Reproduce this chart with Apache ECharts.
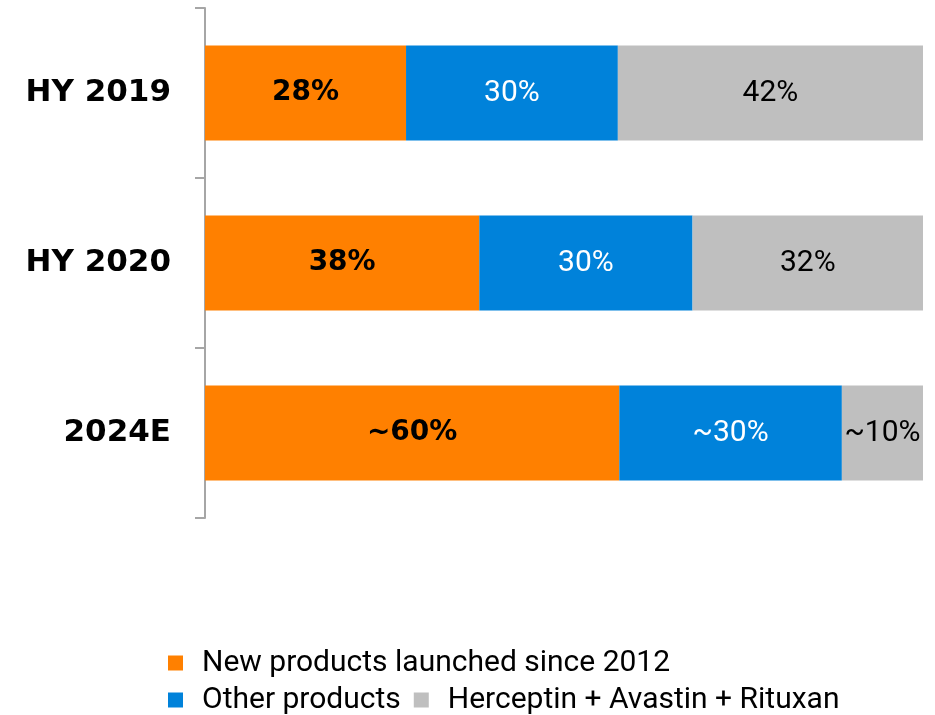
<!DOCTYPE html>
<html>
<head>
<meta charset="utf-8">
<script src="https://cdn.jsdelivr.net/npm/echarts@6/dist/echarts.min.js"></script>
<style>
  html, body { margin: 0; padding: 0; background: #fff; }
  #chart { width: 935px; height: 715px; }
</style>
</head>
<body>
<div id="chart"></div>
<script>
// categories, top to bottom
const periods = ['HY 2019', 'HY 2020', '2024E']
// bar lengths (share of sales, %)
const newProducts = [28, 38.2, 57.7]
const otherProducts = [29.5, 29.7, 31]
const hercAvaRit = [42.5, 32.1, 11.3]
// printed labels
const newLabels = ['28%', '38%', '~60%']
const otherLabels = ['30%', '30%', '~30%']
const hercLabels = ['42%', '32%', '~10%']
const seriesNames = ['New products launched since 2012', 'Other products', 'Herceptin + Avastin + Rituxan']

const chart = echarts.init(document.getElementById('chart'))

function makeSeries(name, values, labels, color, labelColor, bold) {
  return {
    name: name,
    type: 'bar',
    stack: 'total',
    barWidth: 95,
    itemStyle: { color: color },
    label: {
      show: true,
      position: 'inside',
      color: labelColor,
      fontFamily: bold ? 'DejaVu Sans' : 'Roboto',
      fontWeight: bold ? 'bold' : 'normal',
      fontSize: bold ? 28 : 30,
      formatter: p => labels[p.dataIndex]
    },
    data: values
  }
}

const legendText = { fontFamily: 'Roboto', fontSize: 30, color: '#000', padding: [0, 0, 0, 14] }

chart.setOption({
  backgroundColor: '#ffffff',
  animation: false,
  grid: {
    left: 205,
    right: 12,
    top: 8,
    bottom: 197
  },
  legend: [{
    data: [seriesNames[0]],
    left: 163,
    top: 643,
    icon: 'rect',
    itemWidth: 15,
    itemHeight: 15,
    textStyle: legendText
  }, {
    data: [seriesNames[1], seriesNames[2]],
    left: 163,
    top: 680,
    icon: 'rect',
    itemWidth: 15,
    itemHeight: 15,
    itemGap: 13,
    textStyle: legendText
  }],
  xAxis: {
    type: 'value',
    min: 0,
    max: 100,
    show: false
  },
  yAxis: {
    type: 'category',
    inverse: true,
    data: periods,
    axisLine: { lineStyle: { color: '#a6a6a6', width: 2 } },
    axisTick: { show: true, length: 10, lineStyle: { color: '#a6a6a6', width: 2 } },
    axisLabel: {
      margin: 34,
      color: '#000',
      fontFamily: 'DejaVu Sans',
      fontWeight: 'bold',
      fontSize: 31
    }
  },
  series: [
    makeSeries(seriesNames[0], newProducts, newLabels, '#ff8000', '#000', true),
    makeSeries(seriesNames[1], otherProducts, otherLabels, '#0082da', '#fff', false),
    makeSeries(seriesNames[2], hercAvaRit, hercLabels, '#bfbfbf', '#000', false)
  ]
})
</script>
</body>
</html>
